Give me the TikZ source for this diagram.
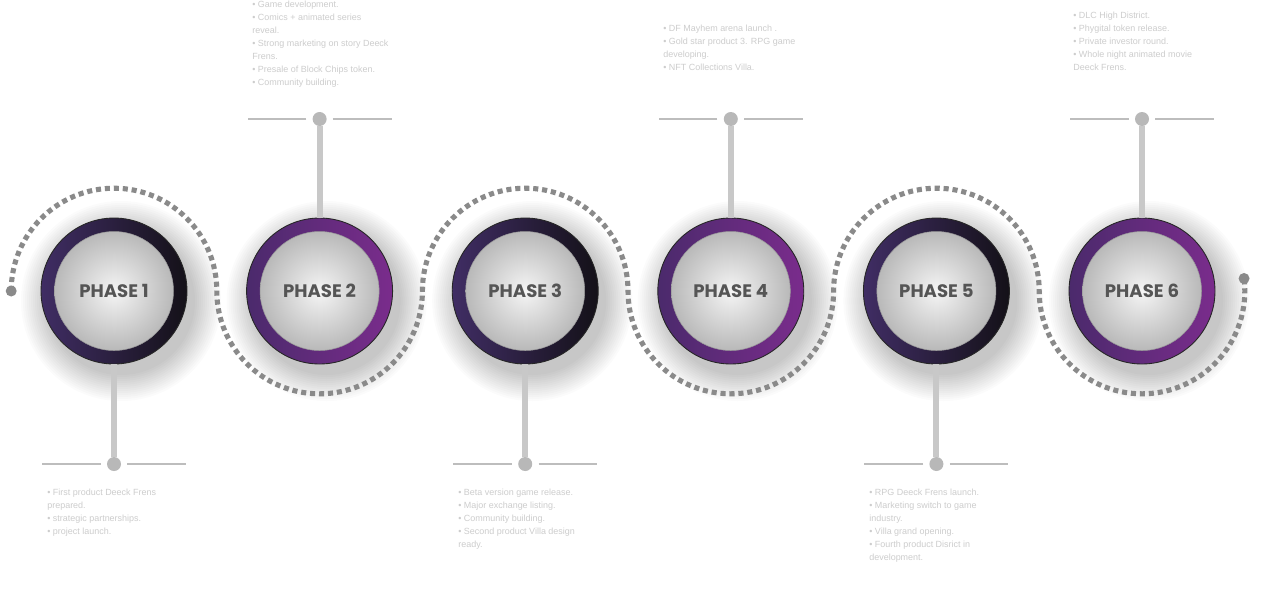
\documentclass[tikz,border=0pt]{standalone}
\usepackage{fontspec}
\setmainfont{Liberation Sans}
\newfontfamily\phasefont{Poppins}[BoldFont=* Bold]
\usetikzlibrary{calc}
\definecolor{dotgray}{HTML}{8A8A8A}
\definecolor{notegray}{HTML}{CDCDCD}
\definecolor{stemgray}{HTML}{C8C8C8}
\definecolor{linegray}{HTML}{BDBDBD}
\definecolor{labelgray}{HTML}{555555}
\definecolor{darkA}{HTML}{402D64}
\definecolor{darkB}{HTML}{141118}
\definecolor{purpA}{HTML}{4B2A6C}
\definecolor{purpB}{HTML}{7A2C8C}
\tikzset{
  ringdark/.style={circle, minimum size=2.92cm, inner sep=0pt, draw=black!85, line width=0.5pt,
    shade, shading angle=135, left color=darkA, right color=darkB},
  ringpurple/.style={circle, minimum size=2.92cm, inner sep=0pt, draw=black!85, line width=0.5pt,
    shade, shading angle=135, left color=purpA, right color=purpB},
  disc/.style={circle, minimum size=2.38cm, inner sep=0pt, draw=black!40, line width=0.3pt,
    inner color=white!92!gray, outer color=gray!55,
    font=\phasefont\bfseries\fontsize{10.3pt}{12pt}\selectfont, text=labelgray},
  dotarc/.style={draw=dotgray, line width=2.9pt, dash pattern=on 2.9pt off 2.2pt},
  enddot/.style={circle, fill=dotgray, minimum size=0.22cm, inner sep=0pt},
  stem/.style={draw=stemgray, line width=3.4pt},
  pin/.style={circle, fill=stemgray!92!black, minimum size=0.28cm, inner sep=0pt},
  rail/.style={draw=linegray, line width=1.6pt},
  note/.style={anchor=north west, inner sep=0pt, align=left, text=notegray,
    font=\fontsize{5.1pt}{7.4pt}\selectfont}
}
\begin{document}
\begin{tikzpicture}[x=0.02cm,y=-0.02cm]
\useasboundingbox[fill=white] (0,0) rectangle (1280,610);

% centres of the six phases
\foreach \i/\x in {1/114,2/319.6,3/525.2,4/730.8,5/936.4,6/1142}{
  \coordinate (c\i) at (\x,291);
}

% soft drop shadows under the discs
\foreach \i in {1,...,6}{
  \foreach \r in {74,76,...,100}{
    \fill[black,opacity=0.016] ($(c\i)+(7,10)$) circle (\r);
  }
}

% dotted wave path
\coordinate (wstart) at (11.2,291);
\path (1142,291) ++(-7:102.8) coordinate (wend);
\draw[dotarc] (wstart)
  arc[start angle=180,end angle=360,radius=102.8]
  arc[start angle=180,end angle=0,radius=102.8]
  arc[start angle=180,end angle=360,radius=102.8]
  arc[start angle=180,end angle=0,radius=102.8]
  arc[start angle=180,end angle=360,radius=102.8]
  arc[start angle=180,end angle=-7,radius=102.8];
\node[enddot] (ws) at (wstart) {};
\node[enddot] (we) at (wend) {};

% stems, pins and rails
\foreach \i/\dy in {1/173,2/-172,3/173,4/-172,5/173,6/-172}{
  \node[pin] (pin\i) at ($(c\i)+(0,\dy)$) {};
  \coordinate (rl\i) at ($(pin\i)+(-72,0)$);
  \coordinate (rr\i) at ($(pin\i)+(72,0)$);
  \draw[rail] (pin\i.west) ++(-6,0) -- (rl\i);
  \draw[rail] (pin\i.east) ++(6,0) -- (rr\i);
}

% phase discs
\foreach \i/\s in {1/ringdark,2/ringpurple,3/ringdark,4/ringpurple,5/ringdark,6/ringpurple}{
  \node[\s] (p\i) at (c\i) {};
}
\foreach \i in {1,3,5}{ \draw[stem] (p\i.south) -- (pin\i.north); }
\foreach \i in {2,4,6}{ \draw[stem] (p\i.north) -- (pin\i.south); }
\foreach \i in {1,...,6}{
  \node[disc] (d\i) at (c\i) {PHASE \i};
}

% notes
\node[note] (n2) at (252,0.5) {• Game development.\\• Comics + animated series\\reveal.\\• Strong marketing on story Deeck\\Frens.\\• Presale of Block Chips token.\\• Community building.};
\node[note] (n4) at (663,24.5) {• DF Mayhem arena launch .\\• Gold star product 3. RPG game\\developing.\\• NFT Collections Villa.};
\node[note] (n6) at (1073,11.5) {• DLC High District.\\• Phygital token release.\\• Private investor round.\\• Whole night animated movie\\Deeck Frens.};
\node[note] (n1) at (47,488.5) {• First product Deeck Frens\\prepared.\\• strategic partnerships.\\• project launch.};
\node[note] (n3) at (458,488.5) {• Beta version game release.\\• Major exchange listing.\\• Community building.\\• Second product Villa design\\ready.};
\node[note] (n5) at (869,488.5) {• RPG Deeck Frens launch.\\• Marketing switch to game\\industry.\\• Villa grand opening.\\• Fourth product Disrict in\\development.};
\end{tikzpicture}
\end{document}
